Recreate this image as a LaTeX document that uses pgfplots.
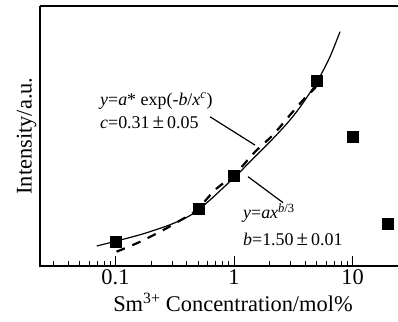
\documentclass[border=0pt]{standalone}
\usepackage{fontspec}
\setmainfont{Liberation Serif}
\usepackage{pgfplots}
\pgfplotsset{compat=1.18}
\usetikzlibrary{calc}
\begin{document}
\begin{tikzpicture}
\begin{axis}[name=ax, scale only axis, width=358bp, height=260bp,
  xmode=log, xmin=0.02306, xmax=24.2, ymin=0, ymax=260,
  axis line style={draw=none},
  xtick={0.1,1,10}, xticklabels={0.1,1,10},
  minor xtick={0.03,0.04,0.05,0.06,0.07,0.08,0.09,0.2,0.3,0.4,0.5,0.6,0.7,0.8,0.9,2,3,4,5,6,7,8,9},
  ytick=\empty,
  xtick pos=bottom, tick align=inside,
  major tick length=10bp, minor tick length=5bp,
  every tick/.style={black, line width=1bp},
  /pgf/number format/assume math mode=true,
  tick label style={font=\fontsize{22.5}{26}\selectfont},
  xlabel={Sm\textsuperscript{3+} Concentration/mol\%},
  ylabel={Intensity/a.u.},
  label style={font=\fontsize{22.5}{26}\selectfont},
  xlabel style={xshift=14bp, yshift=-2bp},
  clip=false,
]
\draw[line width=2bp] (rel axis cs:0,1) -- (rel axis cs:0,0) -- (rel axis cs:1,0);
\draw[line width=2bp] (rel axis cs:0,1) -- (rel axis cs:1,1);
\addplot[black, line width=2.2bp, dash pattern=on 9bp off 8bp, smooth] coordinates {
(0.102,14.3)(0.155,23.3)(0.238,34.3)(0.337,44.3)(0.484,56)(0.691,76)(1.02,92)(1.50,114)(2.13,131)(2.97,151)(3.97,168)(4.82,178)(5.11,185)};
\addplot[black, line width=1.2bp, smooth] coordinates {
(0.0694,20)(0.102,25)(0.177,32.7)(0.318,43.3)(0.5,56)(1.02,89.3)(1.41,106)(2.08,126)(2.97,146)(3.82,163)(5.11,186)(6.46,209.3)(7.84,234.3)};
\addplot[only marks, mark=square*, mark size=5.5bp, black] coordinates {
(0.1,24)(0.5,57)(1,90)(5,185)(10,129)(20,42)};
\draw[line width=1.2bp] (rel axis cs:0.475,0.574) -- (rel axis cs:0.6006,0.465);
\draw[line width=1.2bp] (rel axis cs:0.581,0.3435) -- (rel axis cs:0.679,0.2435);
\node[anchor=west, inner sep=0pt, font=\fontsize{18}{22}\selectfont] at (rel axis cs:0.1676,0.635) {\textit{y}=\textit{a}* exp(-\textit{b}/\textit{x}\textsuperscript{\textit{c}})};
\node[anchor=west, inner sep=0pt, font=\fontsize{18}{22}\selectfont] at (rel axis cs:0.1676,0.55) {\textit{c}=0.31\,{\fontsize{21}{22}\selectfont ±}\,0.05};
\node[anchor=west, inner sep=0pt, font=\fontsize{18}{22}\selectfont] at (rel axis cs:0.567,0.204) {\textit{y}=\textit{ax}\textsuperscript{\textit{b}/3}};
\node[anchor=west, inner sep=0pt, font=\fontsize{18}{22}\selectfont] at (rel axis cs:0.567,0.104) {\textit{b}=1.50\,{\fontsize{21}{22}\selectfont ±}\,0.01};
\end{axis}
\pgfresetboundingbox
\path[use as bounding box] ($(ax.south west)+(-40bp,-56bp)$) rectangle ($(ax.north east)+(0,6bp)$);
\end{tikzpicture}
\end{document}
